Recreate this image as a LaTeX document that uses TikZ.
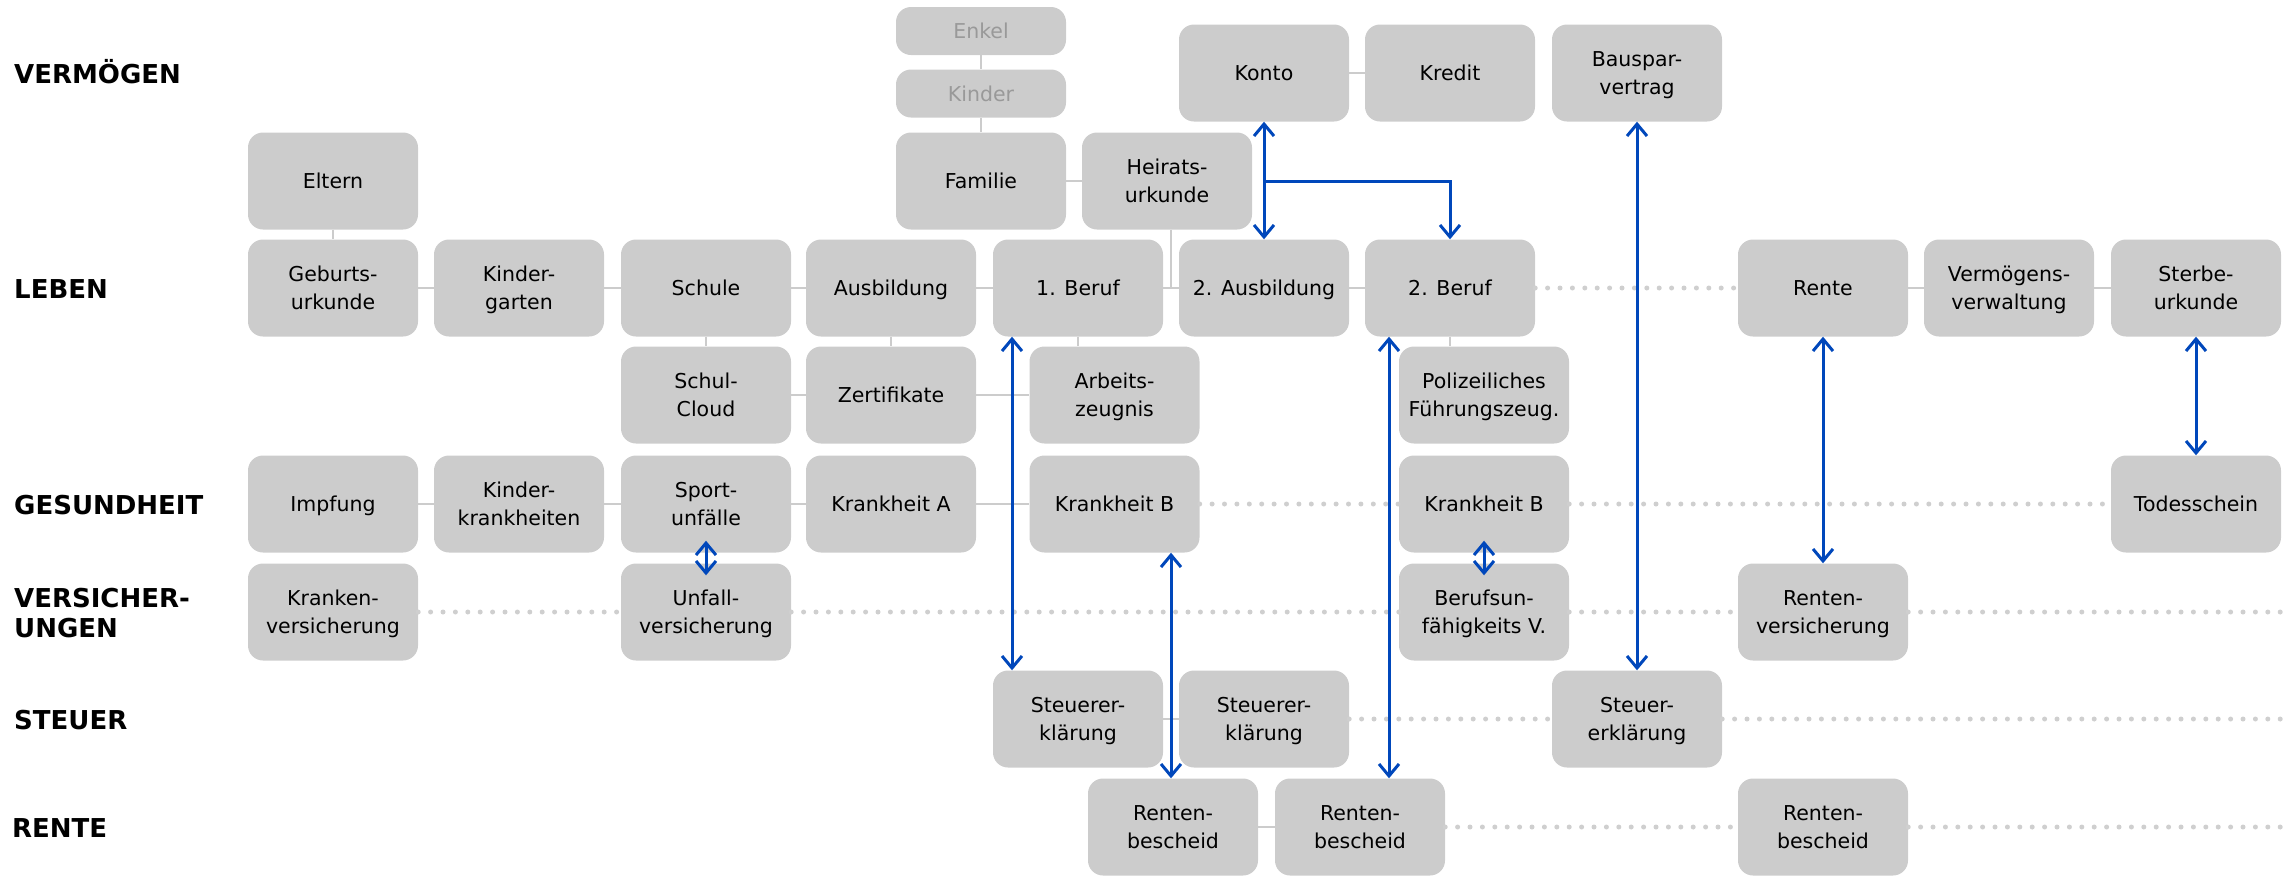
\documentclass[tikz,border=0pt]{standalone}
\usepackage{fontspec}
\setmainfont{DejaVu Sans}
\usetikzlibrary{arrows.meta,calc}
\definecolor{boxgray}{HTML}{CCCCCC}
\definecolor{linkgray}{HTML}{CCCCCC}
\definecolor{dotgray}{HTML}{CFCFCF}
\definecolor{flowblue}{HTML}{0047BB}
\definecolor{fadetext}{HTML}{999999}
% last line without descender depth, so the caps sit centred in the card
\newcommand{\nodp}[1]{\raisebox{0pt}[\height][0pt]{#1}}

\begin{document}
\begin{tikzpicture}[x=1pt,y=-1pt,
  card/.style={fill=boxgray, rounded corners=15pt, minimum width=170pt,
    minimum height=97pt, inner sep=0pt, align=center,
    font=\fontsize{20.5}{28}\selectfont, text=black},
  smallcard/.style={card, minimum height=48pt, text=fadetext},
  rowlabel/.style={anchor=base west, inner sep=0pt, align=left,
    font=\fontsize{26}{30}\selectfont\bfseries},
  link/.style={draw=linkgray, line width=2.5pt},
  dots/.style={draw=dotgray, line width=5pt, line cap=round,
    dash pattern=on 0pt off 12.4pt},
  barb/.tip={Straight Barb[length=12pt,width=20pt]},
  flow/.style={draw=flowblue, line width=3pt, barb-barb},
  flowend/.style={draw=flowblue, line width=3pt, -barb},
]
\useasboundingbox (0,0) rectangle (2287,879);

% row titles
\node[rowlabel] (lVerm) at (14,83.5) {VERMÖGEN};
\node[rowlabel] (lLeben) at (14,298.5) {LEBEN};
\node[rowlabel] (lGes) at (14,514.5) {GESUNDHEIT};
\node[rowlabel, anchor=west] (lVers) at (14,613) {VERSICHER-\\UNGEN};
\node[rowlabel] (lSteuer) at (14,729.5) {STEUER};
\node[rowlabel] (lRente) at (12,837.5) {RENTE};

% Vermögen
\node[card] (Konto) at (1264,73) {Konto};
\node[card] (Kredit) at (1450,73) {Kredit};
\node[card] (Bauspar) at (1637,73) {Bauspar-\\\nodp{vertrag}};

% Familie
\node[smallcard] (Enkel) at (981,31) {Enkel};
\node[smallcard] (Kinder) at (981,93.5) {Kinder};
\node[card] (Familie) at (981,181) {Familie};
\node[card] (Heirat) at (1167,181) {Heirats-\\urkunde};
\node[card] (Eltern) at (333,181) {Eltern};

% Leben
\node[card] (Geburt) at (333,288) {Geburts-\\urkunde};
\node[card] (Kiga) at (519,288) {Kinder-\\\nodp{garten}};
\node[card] (Schule) at (706,288) {Schule};
\node[card] (Ausb) at (891,288) {\nodp{Ausbildung}};
\node[card] (Beruf1) at (1078,288) {1. Beruf};
\node[card] (Ausb2) at (1264,288) {\nodp{2. Ausbildung}};
\node[card] (Beruf2) at (1450,288) {2. Beruf};
\node[card] (Rente) at (1823,288) {Rente};
\node[card] (VermV) at (2009,288) {Vermögens-\\\nodp{verwaltung}};
\node[card] (Sterbe) at (2196,288) {Sterbe-\\urkunde};

\node[card] (Cloud) at (706,395) {Schul-\\Cloud};
\node[card] (Zert) at (891,395) {Zertifikate};
\node[card] (Arbeit) at (1114.5,395) {Arbeits-\\\nodp{zeugnis}};
\node[card] (Polizei) at (1484,395) {Polizeiliches\\\nodp{Führungszeug.}};

% Gesundheit
\node[card] (Impf) at (333,504) {\nodp{Impfung}};
\node[card] (KiKr) at (519,504) {Kinder-\\krankheiten};
\node[card] (Sport) at (706,504) {Sport-\\unfälle};
\node[card] (KrA) at (891,504) {Krankheit A};
\node[card] (KrB) at (1114.5,504) {Krankheit B};
\node[card] (KrB2) at (1484,504) {Krankheit B};
\node[card] (Tod) at (2196,504) {Todesschein};

% Versicherungen
\node[card] (KrV) at (333,612) {Kranken-\\\nodp{versicherung}};
\node[card] (UnfV) at (706,612) {Unfall-\\\nodp{versicherung}};
\node[card] (BuV) at (1484,612) {Berufsun-\\\nodp{fähigkeits V.}};
\node[card] (RentV) at (1823,612) {Renten-\\\nodp{versicherung}};

% Steuer
\node[card] (St1) at (1078,719) {Steuerer-\\\nodp{klärung}};
\node[card] (St2) at (1264,719) {Steuerer-\\\nodp{klärung}};
\node[card] (St3) at (1637,719) {Steuer-\\\nodp{erklärung}};

% Rente
\node[card] (RB1) at (1173,827) {Renten-\\bescheid};
\node[card] (RB2) at (1360,827) {Renten-\\bescheid};
\node[card] (RB3) at (1823,827) {Renten-\\bescheid};

% helper coordinates
\coordinate (gap) at ($(Beruf1.east)!0.5!(Ausb2.west)$);
\coordinate (xB1) at (1012,0);
\coordinate (xB2) at (1389,0);
\coordinate (fork) at (Konto.south |- Heirat.east);
\coordinate (eVers) at (2287,612);
\coordinate (eSteuer) at (2287,719);
\coordinate (eRente) at (2287,827);

% solid grey links
\draw[link] (Enkel) -- (Kinder);
\draw[link] (Kinder) -- (Familie);
\draw[link] (Familie) -- (Heirat);
\draw[link] (Konto) -- (Kredit);
\draw[link] (Eltern) -- (Geburt);
\draw[link] (Geburt) -- (Kiga);
\draw[link] (Kiga) -- (Schule);
\draw[link] (Schule) -- (Ausb);
\draw[link] (Ausb) -- (Beruf1);
\draw[link] (Beruf1) -- (Ausb2);
\draw[link] (Ausb2) -- (Beruf2);
\draw[link] (Heirat.south -| gap) -- (gap);
\draw[link] (Rente) -- (VermV);
\draw[link] (VermV) -- (Sterbe);
\draw[link] (Schule) -- (Cloud);
\draw[link] (Ausb) -- (Zert);
\draw[link] (Beruf1.south) -- (Arbeit.north -| Beruf1.south);
\draw[link] (Beruf2.south) -- (Polizei.north -| Beruf2.south);
\draw[link] (Cloud) -- (Zert);
\draw[link] (Zert) -- (Arbeit);
\draw[link] (Impf) -- (KiKr);
\draw[link] (KiKr) -- (Sport);
\draw[link] (Sport) -- (KrA);
\draw[link] (KrA) -- (KrB);
\draw[link] (St1) -- (St2);
\draw[link] (RB1) -- (RB2);

% dotted links
\draw[dots] (Beruf2.east) -- (Rente.west);
\draw[dots] (KrB.east) -- (KrB2.west);
\draw[dots] (KrB2.east) -- (Tod.west);
\draw[dots] (KrV.east) -- (UnfV.west);
\draw[dots] (UnfV.east) -- (BuV.west);
\draw[dots] (BuV.east) -- (RentV.west);
\draw[dots] (RentV.east) -- (eVers);
\draw[dots] (St2.east) -- (St3.west);
\draw[dots] (St3.east) -- (eSteuer);
\draw[dots] (RB2.east) -- (RB3.west);
\draw[dots] (RB3.east) -- (eRente);

% blue relations
\draw[flow] (Konto.south) -- (Ausb2.north);
\draw[flowend] (fork) -| (Beruf2.north);
\draw[flow] (Bauspar.south) -- (St3.north);
\draw[flow] (Beruf1.south -| xB1) -- (St1.north -| xB1);
\draw[flow] (KrB.south -| gap) -- (RB1.north -| gap);
\draw[flow] (Beruf2.south -| xB2) -- (RB2.north -| xB2);
\draw[flow] (Rente.south) -- (RentV.north);
\draw[flow] (Sterbe.south) -- (Tod.north);
\draw[flow] ([yshift=12pt]Sport.south) -- ([yshift=-12pt]UnfV.north);
\draw[flow] ([yshift=12pt]KrB2.south) -- ([yshift=-12pt]BuV.north);
\end{tikzpicture}
\end{document}
